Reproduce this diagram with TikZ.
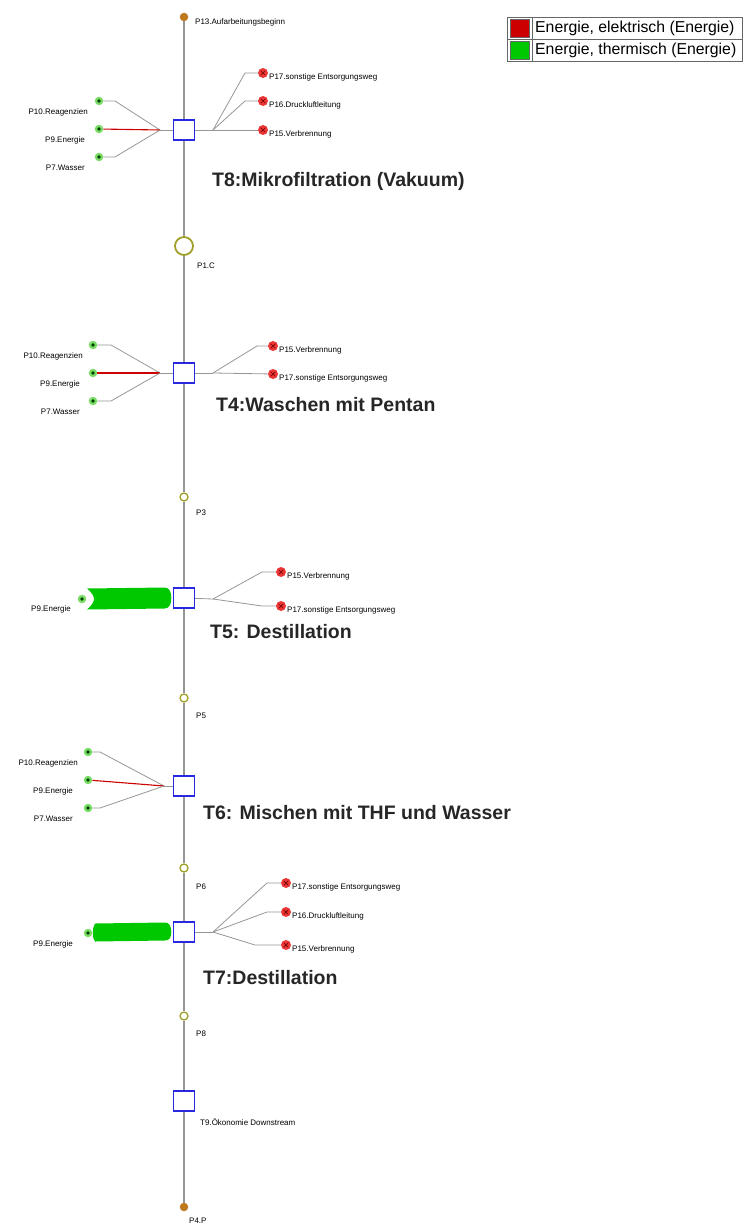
\documentclass[tikz,border=0pt]{standalone}
\usepackage{fontspec}
\setmainfont{Liberation Sans}
\usetikzlibrary{calc}
\definecolor{lgray}{RGB}{150,150,150}
\definecolor{boxblue}{RGB}{40,40,225}
\definecolor{olivec}{RGB}{160,160,40}
\definecolor{dotbrown}{RGB}{190,120,30}
\definecolor{elred}{RGB}{205,0,0}
\definecolor{thgreen}{RGB}{0,200,0}
\definecolor{ingreen}{RGB}{120,220,100}
\definecolor{outred}{RGB}{235,55,55}
\tikzset{
  flow/.style={draw=lgray, line width=0.8pt},
  eflow/.style={draw=elred, line width=1.1pt},
  mainline/.style={draw=lgray, line width=1.1pt},
  task/.style={draw=boxblue, line width=1.4pt, fill=white, minimum width=21pt, minimum height=20pt, inner sep=0pt},
  innode/.style={circle, fill=ingreen, minimum size=8.5pt, inner sep=0pt,
    path picture={\fill[black!75!green] (path picture bounding box.center) circle (1.8pt);}},
  outnode/.style={circle, fill=outred, minimum size=10pt, inner sep=0pt,
    path picture={\draw[red!45!black, line width=0.7pt]
      ($(path picture bounding box.center)+(-2.2pt,-2.2pt)$) -- ($(path picture bounding box.center)+(2.2pt,2.2pt)$)
      ($(path picture bounding box.center)+(-2.2pt,2.2pt)$) -- ($(path picture bounding box.center)+(2.2pt,-2.2pt)$);}},
  pstate/.style={circle, draw=olivec, line width=1.3pt, fill=white, minimum size=8pt, inner sep=0pt},
  pbig/.style={circle, draw=olivec, line width=1.8pt, fill=white, minimum size=18pt, inner sep=0pt},
  enddot/.style={circle, fill=dotbrown, minimum size=8.5pt, inner sep=0pt},
  lbl/.style={font=\fontsize{8}{9}\selectfont, inner sep=0pt},
  ttl/.style={font=\fontsize{19.5}{22}\selectfont\bfseries, inner sep=0pt, anchor=west, text=black!85},
  legtxt/.style={font=\fontsize{15.8}{18}\selectfont, inner sep=0pt, anchor=west},
  legsw/.style={draw=black!60, line width=0.8pt, minimum width=19pt, minimum height=18pt, inner sep=0pt},
  thband/.style={fill=thgreen}
}
\newcommand\outlbl[2]{\node[lbl,anchor=west] (#1l) at ($(#1)+(6,4)$) {#2};}
\newcommand\inlbl[3]{\node[lbl,anchor=east] (#1l) at ($(#1)+(#3,11)$) {#2};}
\begin{document}
\begin{tikzpicture}[x=1pt,y=-1pt]
\useasboundingbox (0,0) rectangle (747,1231);

% ---------- main chain nodes ----------
\node[enddot] (top) at (184,17) {};
\node[task] (t8) at (184,130) {};
\node[pbig] (p1) at (184,246) {};
\node[task] (t4) at (184,373) {};
\node[pstate] (p3) at (184,497) {};
\node[task] (t5) at (184,598) {};
\node[pstate] (p5) at (184,698) {};
\node[task] (t6) at (184,786) {};
\node[pstate] (p6) at (184,868) {};
\node[task] (t7) at (184,932) {};
\node[pstate] (p8) at (184,1016) {};
\node[task] (t9) at (184,1101) {};
\node[enddot] (bot) at (184,1207) {};
\draw[mainline] (top) -- (t8) -- (p1) -- (t4) -- (p3) -- (t5) -- (p5) -- (t6) -- (p6) -- (t7) -- (p8) -- (t9) -- (bot);

\node[lbl,anchor=west] (topl) at (195,22) {P13.Aufarbeitungsbeginn};
\node[lbl,anchor=west] (p1l) at (197,266) {P1.C};
\node[lbl,anchor=west] (p3l) at (196,513) {P3};
\node[lbl,anchor=west] (p5l) at (196,716) {P5};
\node[lbl,anchor=west] (p6l) at (196,887) {P6};
\node[lbl,anchor=west] (p8l) at (196,1034) {P8};
\node[lbl,anchor=west] (t9l) at (200,1122) {T9.Ökonomie Downstream};
\node[lbl,anchor=west] (botl) at (189,1221) {P4.P};

% ---------- T8 ----------
\node[innode] (t8a) at (99,101) {};
\node[innode] (t8b) at (99,129) {};
\node[innode] (t8c) at (99,157) {};
\coordinate (t8in) at (160,130);
\draw[flow] (t8a) -- ++(16,0) -- (t8in);
\draw[eflow] (t8b) -- (t8in);
\draw[flow] (t8c) -- ++(16,0) -- (t8in);
\draw[flow] (t8in) -- (t8);
\inlbl{t8a}{P10.Reagenzien}{-11}
\inlbl{t8b}{P9.Energie}{-14}
\inlbl{t8c}{P7.Wasser}{-14}
\coordinate (t8out) at (213,130);
\node[outnode] (t8x) at (263,73) {};
\node[outnode] (t8y) at (263,101) {};
\node[outnode] (t8z) at (263,130) {};
\draw[flow] (t8) -- (t8out);
\draw[flow] (t8out) -- (245,73) -- (t8x);
\draw[flow] (t8out) -- (245,101) -- (t8y);
\draw[flow] (t8out) -- (t8z);
\outlbl{t8x}{P17.sonstige Entsorgungsweg}
\outlbl{t8y}{P16.Druckluftleitung}
\outlbl{t8z}{P15.Verbrennung}
\node[ttl] (t8t) at (212,181) {T8:Mikrofiltration (Vakuum)};

% ---------- T4 ----------
\node[innode] (t4a) at (93,345) {};
\node[innode] (t4b) at (93,373) {};
\node[innode] (t4c) at (93,401) {};
\coordinate (t4in) at (160,373);
\draw[flow] (t4a) -- ++(18,0) -- (t4in);
\draw[eflow] (t4b) -- (t4in);
\draw[flow] (t4c) -- ++(18,0) -- (t4in);
\draw[flow] (t4in) -- (t4);
\inlbl{t4a}{P10.Reagenzien}{-10}
\inlbl{t4b}{P9.Energie}{-13}
\inlbl{t4c}{P7.Wasser}{-13}
\coordinate (t4out) at (213,373);
\node[outnode] (t4x) at (273,346) {};
\node[outnode] (t4y) at (273,374) {};
\draw[flow] (t4) -- (t4out);
\draw[flow] (t4out) -- (257,346) -- (t4x);
\draw[flow] (t4out) -- (t4y);
\outlbl{t4x}{P15.Verbrennung}
\outlbl{t4y}{P17.sonstige Entsorgungsweg}
\node[ttl] (t4t) at (216,405) {T4:Waschen mit Pentan};

% ---------- T5 ----------
\node[innode] (t5e) at (82,599) {};
\fill[thband] ($(t5e)+(5,-10.5)$) -- ($(t5.west)+(-8,-10.5)$)
  .. controls ($(t5.west)+(-3,-10.5)$) and ($(t5.west)+(-1.5,-5)$) .. ($(t5.west)+(-1.5,0)$)
  .. controls ($(t5.west)+(-1.5,5)$) and ($(t5.west)+(-3,10.5)$) .. ($(t5.west)+(-8,10.5)$)
  -- ($(t5e)+(5,10.5)$)
  .. controls ($(t5e)+(10,6)$) and ($(t5e)+(12,3)$) .. ($(t5e)+(12,0)$)
  .. controls ($(t5e)+(12,-3)$) and ($(t5e)+(10,-6)$) .. cycle;
\node[lbl,anchor=east] (t5el) at (71,609) {P9.Energie};
\coordinate (t5out) at (213,599);
\node[outnode] (t5x) at (281,572) {};
\node[outnode] (t5y) at (281,606) {};
\draw[flow] (t5) -- (t5out);
\draw[flow] (t5out) -- (262,572) -- (t5x);
\draw[flow] (t5out) -- (262,606) -- (t5y);
\outlbl{t5x}{P15.Verbrennung}
\outlbl{t5y}{P17.sonstige Entsorgungsweg}
\node[ttl] (t5t) at (210,632) {T5: Destillation};

% ---------- T6 ----------
\node[innode] (t6a) at (88,752) {};
\node[innode] (t6b) at (88,780) {};
\node[innode] (t6c) at (88,808) {};
\coordinate (t6in) at (164,786);
\draw[flow] (t6a) -- ++(12,0) -- (t6in);
\draw[eflow] (t6b) -- (t6in);
\draw[flow] (t6c) -- ++(12,0) -- (t6in);
\draw[flow] (t6in) -- (t6);
\inlbl{t6a}{P10.Reagenzien}{-10}
\inlbl{t6b}{P9.Energie}{-15}
\inlbl{t6c}{P7.Wasser}{-15}
\node[ttl] (t6t) at (203,813) {T6: Mischen mit THF und Wasser};

% ---------- T7 ----------
\node[innode] (t7e) at (88,933) {};
\fill[thband] ($(t7e)+(7,-9.5)$) -- ($(t7.west)+(-8,-9.5)$)
  .. controls ($(t7.west)+(-3,-9.5)$) and ($(t7.west)+(-1.5,-5)$) .. ($(t7.west)+(-1.5,0)$)
  .. controls ($(t7.west)+(-1.5,5)$) and ($(t7.west)+(-3,8.5)$) .. ($(t7.west)+(-8,8.5)$)
  -- ($(t7e)+(7,8.5)$)
  .. controls ($(t7e)+(4,5)$) and ($(t7e)+(4,-5)$) .. cycle;
\node[lbl,anchor=east] (t7el) at (73,944) {P9.Energie};
\coordinate (t7out) at (213,932);
\node[outnode] (t7x) at (286,883) {};
\node[outnode] (t7y) at (286,912) {};
\node[outnode] (t7z) at (286,945) {};
\draw[flow] (t7) -- (t7out);
\draw[flow] (t7out) -- (267,883) -- (t7x);
\draw[flow] (t7out) -- (267,912) -- (t7y);
\draw[flow] (t7out) -- (255,945) -- (t7z);
\outlbl{t7x}{P17.sonstige Entsorgungsweg}
\outlbl{t7y}{P16.Druckluftleitung}
\outlbl{t7z}{P15.Verbrennung}
\node[ttl] (t7t) at (203,978) {T7:Destillation};

% ---------- legend ----------
\draw[black!60, line width=0.8pt] (507,17) rectangle (742,61);
\draw[black!60, line width=0.8pt] (507,39) -- (742,39);
\draw[black!60, line width=0.8pt] (532,17) -- (532,61);
\node[legsw, fill=elred] (lg1) at (519.5,28) {};
\node[legsw, fill=thgreen] (lg2) at (519.5,50) {};
\node[legtxt] (lt1) at (535,28.5) {Energie, elektrisch (Energie)};
\node[legtxt] (lt2) at (535,50.5) {Energie, thermisch (Energie)};
\end{tikzpicture}
\end{document}
